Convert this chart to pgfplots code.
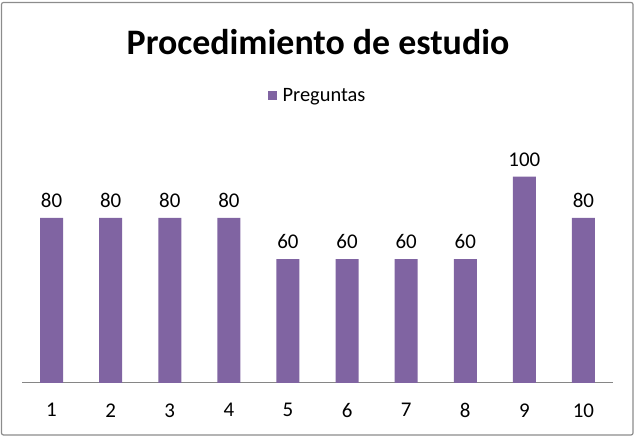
\documentclass[border=0pt]{standalone}
\usepackage{fontspec}
\setmainfont{Carlito}
\usepackage{pgfplots}
\pgfplotsset{compat=1.18}
\definecolor{barpurple}{HTML}{8064A2}
\definecolor{axisgray}{HTML}{868686}
\definecolor{framegray}{HTML}{8C8C8C}

\begin{document}
\begin{tikzpicture}[x=1bp,y=1bp]
	\useasboundingbox (0,0) rectangle (638,448);
	\draw[framegray, line width=1.2bp, rounded corners=2bp] (1.5,13) rectangle (633,445.5);
	\node[font=\fontsize{36}{41}\selectfont\bfseries] at (318,406) {Procedimiento de estudio};
	\begin{axis}[
		at={(22bp,65bp)}, anchor=south west,
		scale only axis,
		width=591bp, height=247.5bp,
		xmin=0.5, xmax=10.5,
		ymin=0, ymax=120,
		axis y line=none,
		axis x line*=bottom,
		axis line style={axisgray, line width=1bp, -},
		xtick={1,...,10},
		major tick length=0pt,
		/pgf/number format/assume math mode=true,
		tick label style={font=\fontsize{21}{24}\selectfont},
		xticklabel style={yshift=-17bp},
		ybar, bar width=23bp,
		nodes near coords,
		every node near coord/.append style={font=\fontsize{21}{24}\selectfont, yshift=7bp, /pgf/number format/assume math mode=true},
		legend style={at={(0.5,1.16)}, anchor=center, draw=none,
			font=\fontsize{20.5}{24}\selectfont},
		legend image code/.code={\fill[barpurple] (0bp,-4.5bp) rectangle (9bp,4.5bp); \path (13bp,0bp);},
		clip=false,
	]
		\addplot[fill=barpurple, draw=none] coordinates {
			(1,80) (2,80) (3,80) (4,80) (5,60)
			(6,60) (7,60) (8,60) (9,100) (10,80)
		};
		\addlegendentry{Preguntas}
	\end{axis}
\end{tikzpicture}
\end{document}
